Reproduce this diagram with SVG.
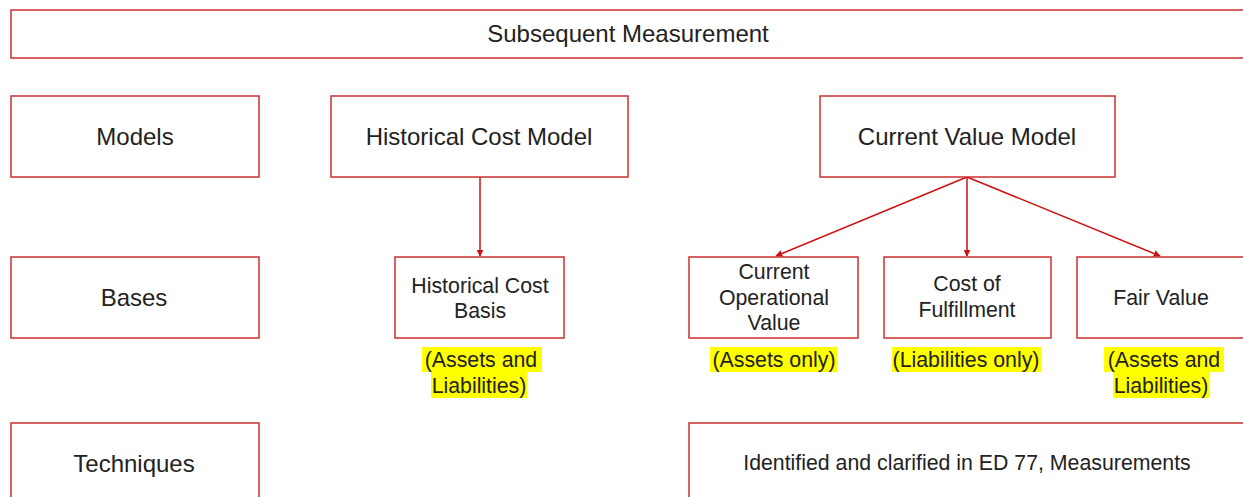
<svg xmlns="http://www.w3.org/2000/svg" width="1243" height="497" viewBox="0 0 1243 497">
<style>
.box{fill:#ffffff;stroke:#cc2f2f;stroke-width:1.5}
.t{font-family:"Liberation Sans",Arial,sans-serif;fill:#222222;text-anchor:middle}
.big{font-size:24px}
.mid{font-size:21.3px}
.hl{fill:#ffff00;stroke:none}
.edge{fill:none;stroke:#cc1111;stroke-width:1.5}
</style>
<defs>
<marker id="arr" viewBox="0 0 10 10" refX="9" refY="5" markerWidth="7" markerHeight="7" markerUnits="userSpaceOnUse" orient="auto">
<path d="M0,0 L10,5 L0,10 z" fill="#cc1111"/>
</marker>
</defs>
<rect width="1243" height="497" fill="#ffffff"/>
<g id="edges">
<line class="edge" x1="480" y1="177" x2="480" y2="256" marker-end="url(#arr)"/>
<line class="edge" x1="967" y1="177" x2="776" y2="256" marker-end="url(#arr)"/>
<line class="edge" x1="967" y1="177" x2="967" y2="256" marker-end="url(#arr)"/>
<line class="edge" x1="967" y1="177" x2="1160" y2="256" marker-end="url(#arr)"/>
</g>
<g id="subsequent">
<rect class="box" x="11" y="10" width="1250" height="48"/>
<text class="t big" x="628" y="42">Subsequent Measurement</text>
</g>
<g id="models">
<rect class="box" x="11" y="96" width="248" height="81"/>
<text class="t big" x="135" y="145">Models</text>
</g>
<g id="historical-cost-model">
<rect class="box" x="331" y="96" width="297" height="81"/>
<text class="t big" x="479" y="145">Historical Cost Model</text>
</g>
<g id="current-value-model">
<rect class="box" x="820" y="96" width="295" height="81"/>
<text class="t big" x="967" y="145">Current Value Model</text>
</g>
<g id="bases">
<rect class="box" x="11" y="257" width="248" height="81"/>
<text class="t big" x="134" y="306">Bases</text>
</g>
<g id="historical-cost-basis">
<rect class="box" x="395" y="257" width="169" height="81"/>
<text class="t mid" x="480" y="293">Historical Cost</text>
<text class="t mid" x="480" y="318">Basis</text>
<rect class="hl" x="422" y="347" width="120" height="25"/>
<rect class="hl" x="431" y="372" width="96" height="26"/>
<text class="t mid" x="481" y="367">(Assets and </text>
<text class="t mid" x="479" y="393">Liabilities)</text>
</g>
<g id="current-operational-value">
<rect class="box" x="689" y="257" width="169" height="81"/>
<text class="t mid" x="774" y="279">Current</text>
<text class="t mid" x="774" y="305">Operational</text>
<text class="t mid" x="774" y="330">Value</text>
<rect class="hl" x="710" y="347" width="127" height="25"/>
<text class="t mid" x="774" y="367">(Assets only)</text>
</g>
<g id="cost-of-fulfillment">
<rect class="box" x="884" y="257" width="167" height="81"/>
<text class="t mid" x="967" y="291">Cost of</text>
<text class="t mid" x="967" y="317">Fulfillment</text>
<rect class="hl" x="892" y="347" width="149" height="25"/>
<text class="t mid" x="966" y="367">(Liabilities only)</text>
</g>
<g id="fair-value">
<rect class="box" x="1077" y="257" width="180" height="81"/>
<text class="t mid" x="1161" y="305">Fair Value</text>
<rect class="hl" x="1104" y="347" width="120" height="25"/>
<rect class="hl" x="1113" y="372" width="97" height="26"/>
<text class="t mid" x="1164" y="367">(Assets and </text>
<text class="t mid" x="1161" y="393">Liabilities)</text>
</g>
<g id="techniques">
<rect class="box" x="11" y="423" width="248" height="90"/>
<text class="t big" x="134" y="472">Techniques</text>
</g>
<g id="ed77">
<rect class="box" x="689" y="423" width="570" height="90"/>
<text class="t mid" x="967" y="470">Identified and clarified in ED 77, Measurements</text>
</g>
</svg>
